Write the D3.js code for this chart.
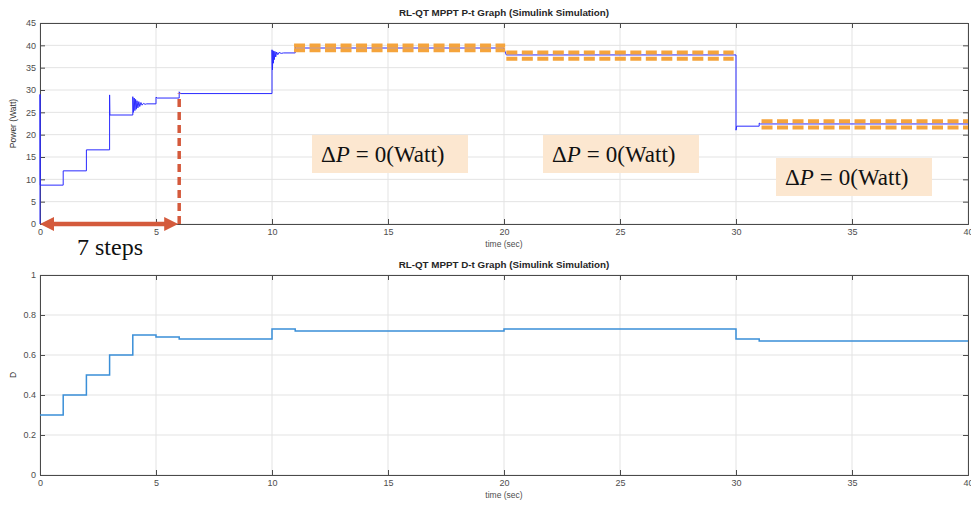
<!DOCTYPE html>
<html>
<head>
<meta charset="utf-8">
<script src="https://cdn.jsdelivr.net/npm/d3@7"></script>
<style>
  body { margin: 0; background: #fff; }
  svg { display: block; }
  .tick text { font-family: "Liberation Sans", Arial, sans-serif; font-size: 9px; fill: #4d4d4d; }
</style>
</head>
<body>
<div id="chart"></div>
<script>
// ---- data ----
// power trace, P-t graph (time in s, power in W), transients included
const pTime = [0, 0, 0.01, 1, 1, 2, 2, 3, 3, 3.01, 4,
  4, 4.03, 4.06, 4.09, 4.12, 4.15, 4.18, 4.22, 4.26, 4.30, 4.35, 4.40, 4.46, 4.53, 4.6, 5,
  5, 5.05, 6,
  6, 6.05, 10,
  10, 10.02, 10.04, 10.06, 10.08, 10.10, 10.13, 10.16, 10.2, 10.25, 10.3, 10.4, 10.5, 11,
  11, 11.05, 20,
  20, 20.1, 30,
  30, 30.03, 31,
  31, 31.05, 40];
const pValue = [0, 29, 8.7, 8.7, 11.9, 11.9, 16.6, 16.6, 28.9, 24.4, 24.4,
  28.5, 25.0, 28.2, 25.4, 27.9, 25.7, 27.6, 26.0, 27.4, 26.3, 27.2, 26.6, 27.0, 26.8, 26.9, 26.9,
  28.4, 28.2, 28.2,
  29.6, 29.2, 29.2,
  39.0, 34.5, 38.8, 36.0, 38.7, 36.8, 38.6, 37.4, 38.5, 37.9, 38.4, 38.2, 38.3, 38.3,
  39.6, 39.4, 39.4,
  39.2, 37.85, 37.85,
  21.0, 21.9, 21.9,
  22.6, 22.4, 22.4];

// duty cycle, D-t graph: value held from dStepStart[i] to dStepStart[i+1]
const dStepStart = [0, 1, 2, 3, 4, 5, 6, 10, 11, 20, 30, 31, 40];
const dValue = [0.30, 0.40, 0.50, 0.60, 0.70, 0.69, 0.68, 0.73, 0.72, 0.73, 0.68, 0.67, 0.67];

// orange steady-state bands on the P-t graph
const bandStart = [10.95, 20.1, 31.1];
const bandEnd = [20.05, 29.9, 40];
const bandUpper = [39.95, 38.4, 23.0];
const bandLower = [38.9, 37.0, 21.6];

const xTicks = [0, 5, 10, 15, 20, 25, 30, 35, 40];
const pTicks = [0, 5, 10, 15, 20, 25, 30, 35, 40, 45];
const dTicks = [0, 0.2, 0.4, 0.6, 0.8, 1];

const stepEndTime = 6; // end of the "7 steps" search

// ---- drawing ----
const W = 971, H = 506;
const svg = d3.select('#chart').append('svg')
  .attr('width', W).attr('height', H);

const x = d3.scaleLinear().domain([0, 40]).range([40, 968]);
const yP = d3.scaleLinear().domain([0, 45]).range([224, 23]);
const yD = d3.scaleLinear().domain([0, 1]).range([475, 275]);

function drawAxes(y, ticks, title, ylabel, fmt) {
  const [y0, y1] = y.range();
  const g = svg.append('g');

  // grid
  g.selectAll('.gx').data(xTicks).enter().append('line')
    .attr('x1', d => x(d)).attr('x2', d => x(d))
    .attr('y1', y0).attr('y2', y1)
    .attr('stroke', '#e3e3e3').attr('stroke-width', 1);
  g.selectAll('.gy').data(ticks).enter().append('line')
    .attr('x1', x(0)).attr('x2', x(40))
    .attr('y1', d => y(d)).attr('y2', d => y(d))
    .attr('stroke', '#e3e3e3').attr('stroke-width', 1);

  const bottom = g.append('g').attr('transform', `translate(0,${y0})`)
    .call(d3.axisBottom(x).tickValues(xTicks).tickSize(-5).tickPadding(5).tickFormat(d3.format('d')));
  const top = g.append('g').attr('transform', `translate(0,${y1})`)
    .call(d3.axisTop(x).tickValues(xTicks).tickSize(-5).tickFormat(''));
  const left = g.append('g').attr('transform', `translate(${x(0)},0)`)
    .call(d3.axisLeft(y).tickValues(ticks).tickSize(-5).tickPadding(4).tickFormat(fmt));
  const right = g.append('g').attr('transform', `translate(${x(40)},0)`)
    .call(d3.axisRight(y).tickValues(ticks).tickSize(-5).tickFormat(''));
  [bottom, top, left, right].forEach(a => {
    a.select('.domain').attr('stroke', '#4a4a4a').attr('stroke-width', 1);
    a.selectAll('.tick line').attr('stroke', '#4a4a4a');
  });

  svg.append('text')
    .attr('x', 504).attr('y', y1 - 7)
    .attr('text-anchor', 'middle')
    .attr('font-family', '"Liberation Sans", Arial, sans-serif')
    .attr('font-size', 9.8).attr('font-weight', 'bold').attr('fill', '#262626')
    .text(title);
  svg.append('text')
    .attr('x', 504).attr('y', y0 + 23)
    .attr('text-anchor', 'middle')
    .attr('font-family', '"Liberation Sans", Arial, sans-serif')
    .attr('font-size', 8.5).attr('fill', '#4d4d4d')
    .text('time (sec)');
  svg.append('text')
    .attr('transform', `translate(16,${(y0 + y1) / 2}) rotate(-90)`)
    .attr('text-anchor', 'middle')
    .attr('font-family', '"Liberation Sans", Arial, sans-serif')
    .attr('font-size', 8.5).attr('fill', '#333')
    .text(ylabel);
}

drawAxes(yP, pTicks, 'RL-QT MPPT P-t Graph (Simulink Simulation)', 'Power (Watt)', d3.format('d'));
drawAxes(yD, dTicks, 'RL-QT MPPT D-t Graph (Simulink Simulation)', 'D', d => d === 0 || d === 1 ? d : d.toFixed(1));

// power trace
const pData = pTime.map((t, i) => ({ t, v: pValue[i] }));
svg.append('path')
  .datum(pData)
  .attr('fill', 'none')
  .attr('stroke', '#2a2aff')
  .attr('stroke-width', 1)
  .attr('d', d3.line().x(d => x(d.t)).y(d => yP(d.v)));

// duty cycle trace
const dData = dStepStart.map((t, i) => ({ t, v: dValue[i] }));
svg.append('path')
  .datum(dData)
  .attr('fill', 'none')
  .attr('stroke', '#3a8fd8')
  .attr('stroke-width', 1.5)
  .attr('d', d3.line().curve(d3.curveStepAfter).x(d => x(d.t)).y(d => yD(d.v)));

// orange dashed bands
const bands = bandStart.map((s, i) => ({ s, e: bandEnd[i], hi: bandUpper[i], lo: bandLower[i] }));
bands.forEach(b => {
  [b.hi, b.lo].forEach(v => {
    svg.append('line')
      .attr('x1', x(b.s)).attr('x2', x(b.e))
      .attr('y1', yP(v)).attr('y2', yP(v))
      .attr('stroke', '#f5a43c')
      .attr('stroke-width', 4.2)
      .attr('stroke-dasharray', '11,4.5');
  });
});

// red dashed marker at end of the search
const red = '#d45a3c';
svg.append('line')
  .attr('x1', x(stepEndTime)).attr('x2', x(stepEndTime))
  .attr('y1', yP(0)).attr('y2', yP(29.2))
  .attr('stroke', red).attr('stroke-width', 3.5)
  .attr('stroke-dasharray', '8,5');

// double-headed arrow
const ay = yP(0), ax0 = x(0), ax1 = x(stepEndTime) - 1, ah = 14, aw = 7;
svg.append('line')
  .attr('x1', ax0 + ah - 2).attr('x2', ax1 - ah + 2)
  .attr('y1', ay).attr('y2', ay)
  .attr('stroke', red).attr('stroke-width', 4.5);
svg.append('path')
  .attr('d', `M${ax0},${ay} L${ax0 + ah},${ay - aw} L${ax0 + ah},${ay + aw} Z`)
  .attr('fill', red);
svg.append('path')
  .attr('d', `M${ax1},${ay} L${ax1 - ah},${ay - aw} L${ax1 - ah},${ay + aw} Z`)
  .attr('fill', red);

svg.append('text')
  .attr('x', 110).attr('y', 255)
  .attr('text-anchor', 'middle')
  .attr('font-family', '"Liberation Serif", "Times New Roman", serif')
  .attr('font-size', 24).attr('fill', '#111')
  .text('7 steps');

// ΔP = 0 annotation boxes
const boxes = [
  { x: 312, y: 135 },
  { x: 543, y: 135 },
  { x: 776, y: 158 }
];
boxes.forEach(b => {
  svg.append('rect')
    .attr('x', b.x).attr('y', b.y)
    .attr('width', 156).attr('height', 38)
    .attr('fill', '#fce7d0');
  const t = svg.append('text')
    .attr('x', b.x + 9).attr('y', b.y + 27)
    .attr('font-family', '"Liberation Serif", "Times New Roman", serif')
    .attr('font-size', 23).attr('fill', '#111');
  t.append('tspan').text('Δ');
  t.append('tspan').attr('font-style', 'italic').text('P');
  t.append('tspan').attr('dx', 6).text('=');
  t.append('tspan').attr('dx', 6).text('0(Watt)');
});
</script>
</body>
</html>
